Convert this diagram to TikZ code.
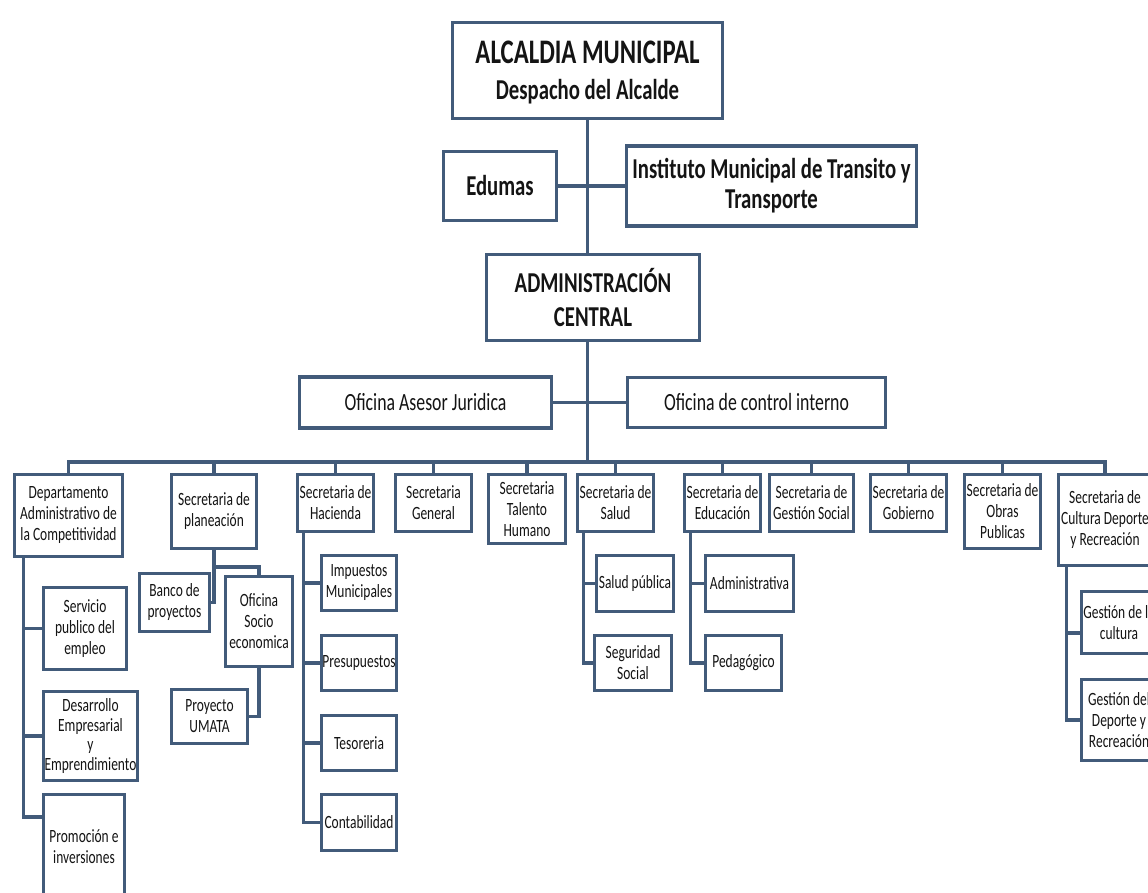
\documentclass[tikz,border=0pt]{standalone}
\usepackage{fontspec}
\setmainfont{Carlito}[FakeStretch=0.72]
\usetikzlibrary{calc}
\definecolor{lc}{RGB}{66,91,122}
\definecolor{tc}{RGB}{20,20,20}
\newcommand\myBig{\fontsize{34.4}{40}\selectfont\bfseries}
\newcommand\myMed{\fontsize{28.8}{30}\selectfont\bfseries}
\newcommand\myReg{\fontsize{24.7}{28}\selectfont}
\newcommand\mySm{\fontsize{18.7}{21}\selectfont}
\tikzset{
  box/.style 2 args={draw=lc, line width=3.2pt, fill=white, inner sep=0pt,
    align=center, text=tc, minimum width=#1pt, minimum height=#2pt},
  sbox/.style 2 args={box={#1}{#2}, font=\mySm},
  conn/.style={draw=lc, line width=3.4pt}
}
\begin{document}
\begin{tikzpicture}[x=1pt,y=-1pt]
\useasboundingbox (0,0) rectangle (1148,893);
\clip (0,0) rectangle (1148,893);
\fill[white] (0,0) rectangle (1148,893);
% top part
\node[box={270}{96}] (alc) at (587.5,70.5) {};
\node[text=tc, font=\myBig, inner sep=0pt] (alct1) at (587.5,52) {ALCALDIA MUNICIPAL};
\node[text=tc, font=\myMed, inner sep=0pt] (alct2) at (587.5,92) {Despacho del Alcalde};
\coordinate (bus) at (587.5,462);
\node[box={213}{86}, font=\myMed] (adm) at (593,297.5) {ADMINISTRACIÓN\\[4pt]CENTRAL};
\draw[conn] (alc.south) -- (alc.south |- adm.north);
\draw[conn] (alc.south |- adm.south) -- (bus);
\node[box={113}{69}, font=\myMed] (edu) at (500,186) {Edumas};
\node[box={290}{80}, font=\myMed] (itt) at (771.5,186) {Instituto Municipal de Transito y\\Transporte};
\draw[conn] (edu.east) -- (itt.west);
\node[box={252}{51}, font=\myReg] (jur) at (425.5,402.5) {Oficina Asesor Juridica};
\node[box={258}{50}, font=\myReg] (oci) at (756.5,402.5) {Oficina de control interno};
\draw[conn] (jur.east) -- (oci.west);
% first level
\node[sbox={108}{82}] (dep) at (68.5,515.5) {Departamento\\Administrativo de\\la Competitividad};
\node[sbox={85}{74}] (pla) at (214,511.5) {Secretaria de\\planeación};
\node[sbox={76}{57}] (hac) at (335.5,503) {Secretaria de\\Hacienda};
\node[sbox={76}{57}] (gen) at (433.5,503) {Secretaria\\General};
\node[sbox={77}{69}] (tal) at (527,509) {Secretaria\\Talento\\Humano};
\node[sbox={76}{57}] (sal) at (615.5,503) {Secretaria de\\Salud};
\node[sbox={76}{57}] (edc) at (722.5,503) {Secretaria de\\Educación};
\node[sbox={84}{57}] (ges) at (811.5,503) {Secretaria de\\Gestión Social};
\node[sbox={76}{57}] (gob) at (908.5,503) {Secretaria de\\Gobierno};
\node[sbox={76}{74}] (obr) at (1002.5,511.5) {Secretaria de\\Obras\\Publicas};
\node[sbox={93}{91}] (cul) at (1105,520) {Secretaria de\\Cultura Deporte\\y Recreación};
\draw[conn] (dep.north) |- (bus) -| (cul.north);
\foreach \n in {pla,hac,gen,tal,sal,edc,ges,gob,obr}
  \draw[conn] (\n.north) -- (\n.north |- bus);
% departamento children
\node[sbox={83}{82}] (srv) at (85,628.5) {Servicio\\publico del\\empleo};
\node[sbox={94}{89}, font=\fontsize{18.7}{19.5}\selectfont] (des) at (90.5,736) {Desarrollo\\Empresarial\\y\\Emprendimiento};
\node[sbox={81}{104}] (pro) at (84,846.5) {Promoción e\\inversiones};
\coordinate (dv) at ($(dep.south west)+(10.5,0)$);
\draw[conn] (dv) |- ($(pro.north west)+(0,24)$);
\draw[conn] (dv |- srv.west) -- (srv.west);
\draw[conn] (dv |- des.west) -- (des.west);
% planeacion children
\node[sbox={70}{58}] (bnc) at (174.5,602.5) {Banco de\\proyectos};
\node[sbox={67}{90}] (osc) at (259,621.5) {Oficina\\Socio\\economica};
\node[sbox={76}{54}] (pum) at (209.5,716.5) {Proyecto\\UMATA};
\draw[conn] (pla.south) |- (bnc.east);
\draw[conn] (pla.south) -- ++(0,17) -| (osc.north);
\draw[conn] (osc.south) |- (pum.east);
% hacienda children
\node[sbox={75}{55}] (imp) at (359,583) {Impuestos\\Municipales};
\node[sbox={75}{55}] (pre) at (359,663) {Presupuestos};
\node[sbox={75}{55}] (tes) at (359,743) {Tesoreria};
\node[sbox={75}{56}] (con) at (359,822.5) {Contabilidad};
\coordinate (hv) at ($(hac.south west)+(7.5,0)$);
\draw[conn] (hv) |- (con.west);
\foreach \n in {imp,pre,tes} \draw[conn] (hv |- \n.west) -- (\n.west);
% salud children
\node[sbox={77}{56}] (spu) at (635,583.5) {Salud pública};
\node[sbox={77}{55}] (sso) at (633,663) {Seguridad\\Social};
\coordinate (sv) at ($(sal.south west)+(7.5,0)$);
\draw[conn] (sv) |- (sso.west);
\draw[conn] (sv |- spu.west) -- (spu.west);
% educacion children
\node[sbox={88}{56}] (adv) at (749.5,583.5) {Administrativa};
\node[sbox={76}{55}] (ped) at (743.5,663) {Pedagógico};
\coordinate (ev) at ($(edc.south west)+(7.5,0)$);
\draw[conn] (ev) |- (ped.west);
\draw[conn] (ev |- adv.west) -- (adv.west);
% cultura children
\node[sbox={75}{62}] (gcu) at (1119,622.5) {Gestión de la\\cultura};
\node[sbox={75}{81}] (gdr) at (1119,720) {Gestión del\\Deporte y\\Recreación};
\coordinate (cv) at ($(cul.south west)+(9.5,0)$);
\draw[conn] (cv) |- (gdr.west);
\draw[conn] (cv |- 0,633) -- (gcu.west |- 0,633);
\end{tikzpicture}
\end{document}
